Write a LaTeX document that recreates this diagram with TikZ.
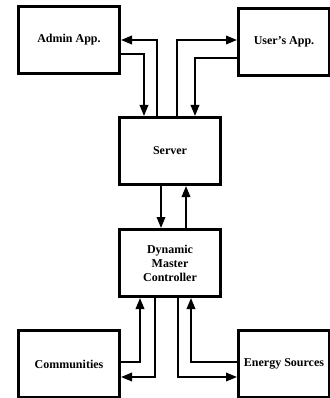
\documentclass[tikz,border=0pt]{standalone}
\usepackage{fontspec}
\setmainfont{Liberation Serif}
\usetikzlibrary{arrows.meta}
\begin{document}
\begin{tikzpicture}[x=1pt,y=-1pt,
  box/.style={draw,line width=3pt,minimum width=101pt,minimum height=67pt,anchor=north west,inner sep=0pt,font=\fontsize{12}{14}\selectfont\bfseries,align=center},
  conn/.style={line width=1.9pt,-{Triangle[length=11pt,width=8.5pt]}}]
\useasboundingbox (0,0) rectangle (329,398);
\node[box] (admin) at (17,5) {Admin App.};
\node[box,minimum width=91pt] (user) at (237,7) {User's App.};
\node[box] (server) at (118,116) {Server};
\node[box] (dmc) at (118,228) {Dynamic\\Master\\Controller};
\node[box] (comm) at (17,329) {Communities};
\node[box,minimum width=91pt] (energy) at (237,329) {Energy Sources};
% top
\coordinate (s1) at (157,116);
\coordinate (s2) at (144,116);
\coordinate (s3) at (177,116);
\coordinate (s4) at (195,116);
\draw[conn] (s1) |- (admin.east |- 0,40);
\draw[conn] (admin.east |- 0,54) -| (s2);
\draw[conn] (s3) |- (user.west |- 0,40);
\draw[conn] (user.west |- 0,58) -| (s4);
% middle
\draw[conn] (server.south -| 161,0) -- (dmc.north -| 161,0);
\draw[conn] (dmc.north -| 186,0) -- (server.south -| 186,0);
% bottom
\draw[conn] (comm.east |- 0,362) -| (dmc.south -| 140,0);
\draw[conn] (dmc.south -| 155,0) |- (comm.east |- 0,377);
\draw[conn] (dmc.south -| 178,0) |- (energy.west |- 0,377);
\draw[conn] (energy.west |- 0,362) -| (dmc.south -| 191,0);
\end{tikzpicture}
\end{document}
